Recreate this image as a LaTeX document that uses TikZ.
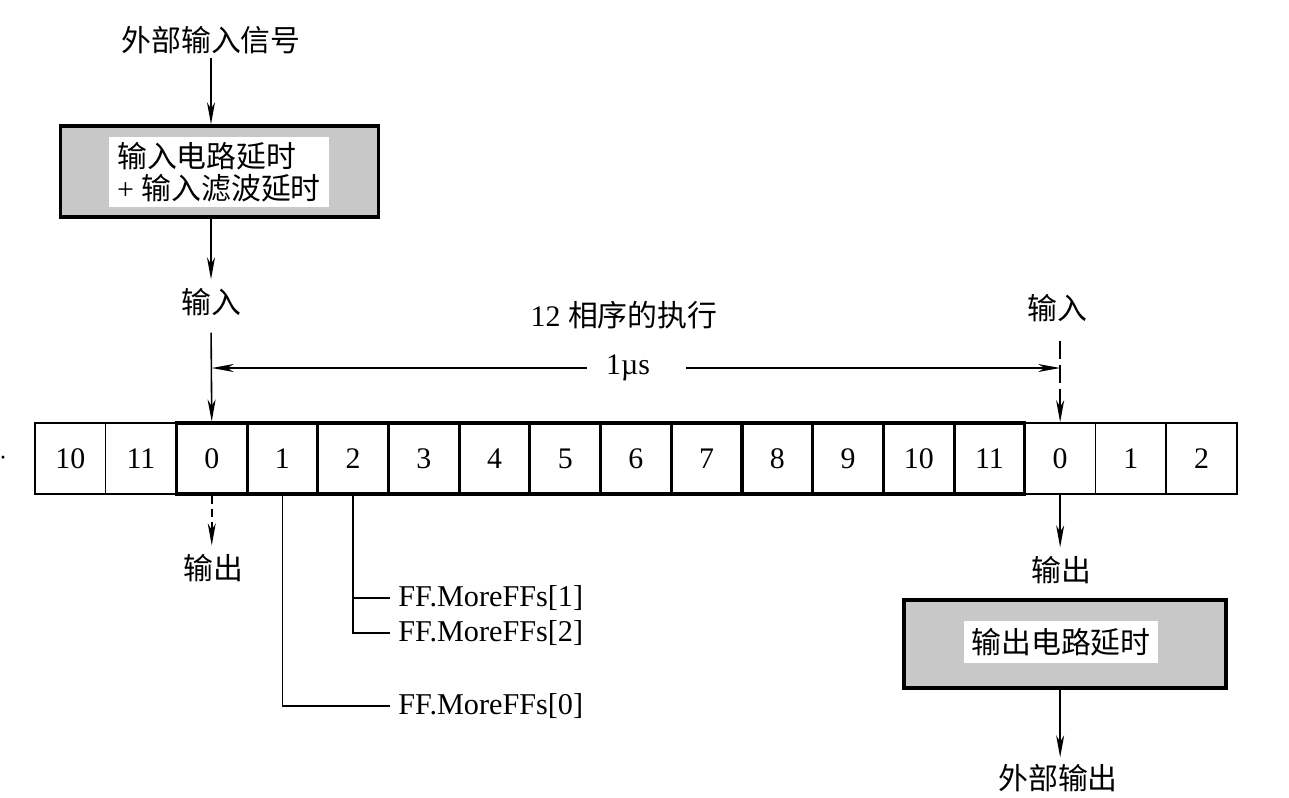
\documentclass[tikz,border=0pt]{standalone}
\usepackage{fontspec}
\setmainfont{Liberation Serif}
\newfontfamily\cjk{Noto Sans CJK SC}
\newcommand\zh[1]{{\cjk #1}}
\usetikzlibrary{arrows.meta,positioning}
\definecolor{boxgray}{RGB}{200,200,200}
\begin{document}
\begin{tikzpicture}[x=0.02cm,y=-0.02cm,
  lbl/.style={font=\fontsize{17}{20}\selectfont, inner sep=2pt},
  arr/.style={line width=0.9pt,-{Stealth[length=4.4mm,width=1.6mm,inset=1.3mm]}},
  darrL/.style={arr, dash pattern=on 0.16cm off 0.1cm},
  darrR/.style={arr, dash pattern=on 0.36cm off 0.12cm},
  thinl/.style={line width=0.9pt},
  cellthin/.style={draw, line width=0.9pt, minimum width=1.414cm, minimum height=1.42cm, inner sep=0pt, font=\fontsize{17}{20}\selectfont},
  cellthick/.style={cellthin, line width=1.8pt},
  graybox/.style={draw, line width=2pt, fill=boxgray},
  whitetext/.style={fill=white, font=\fontsize{17}{20}\selectfont},
  fflbl/.style={font=\fontsize{17.2}{20}\selectfont, anchor=west, inner sep=0pt}
]
\useasboundingbox (0,0) rectangle (1289,798);

% cells
\foreach \i/\t in {0/10,1/11,14/0,15/1,16/2}{
  \pgfmathsetmacro\cx{35+70.7*(\i+0.5)}
  \node[cellthin] (c\i) at (\cx,458.5) {\t};
}
\foreach \i/\t in {2/0,3/1,4/2,5/3,6/4,7/5,8/6,9/7,10/8,11/9,12/10,13/11}{
  \pgfmathsetmacro\cx{35+70.7*(\i+0.5)}
  \node[cellthick] (c\i) at (\cx,458.5) {\t};
}
\fill (3,457) circle (0.035cm);

% input side
\node[lbl] (ext) at (211,40) {\zh{外部输入信号}};
\node[graybox, minimum width=6.36cm, minimum height=1.82cm] (inbox) at (219.5,171.5) {};
\node[whitetext, align=left, inner xsep=0.16cm, inner ysep=0.1cm] (intext) at (219,172)
  {\zh{输入电路延时}\\[-2pt]+ \zh{输入滤波延时}};
\draw[arr] (ext.south) -- (ext.south |- inbox.north);
\node[lbl] (in1) at (211,302) {\zh{输入}};
\draw[arr] (inbox.south -| in1) -- ([yshift=0.1cm]in1.north);
\draw[arr, shorten <=0.26cm] (in1.south) -- (c2.north);

\node[lbl] (seq) at (624,315) {12 \zh{相序的执行}};
\node[lbl, inner sep=0pt] (mu) at (628,368) {1\textmu s};
\draw[arr] ([xshift=-0.38cm]mu.west) -- (c2.north |- mu.west);
\draw[arr] ([xshift=0.72cm]mu.east) -- (c14.north |- mu.east);

\node[lbl] (in2) at (1057,308) {\zh{输入}};
\draw[darrR, shorten <=0.3cm] (c14.north |- in2.south) -- (c14.north);

% output side
\node[lbl] (out1) at (213,568) {\zh{输出}};
\draw[darrL] (c2.south) -- ([yshift=0.1cm]c2.south |- out1.north);
\node[lbl] (out2) at (1061,570) {\zh{输出}};
\draw[arr] (c14.south) -- ([yshift=0.1cm]c14.south |- out2.north);
\node[graybox, minimum width=6.44cm, minimum height=1.76cm] (outbox) at (1065,644) {};
\node[whitetext, inner xsep=0.14cm, inner ysep=0.14cm] (outtext) at (1061,642) {\zh{输出电路延时}};
\node[lbl] (extout) at (1058,778) {\zh{外部输出}};
\draw[arr] (outbox.south -| c14) -- ([yshift=0.06cm]c14.south |- extout.north);

% FF labels
\node[fflbl] (ff1) at (398,598) {FF.MoreFFs[1]};
\node[fflbl] (ff2) at (398,633) {FF.MoreFFs[2]};
\node[fflbl] (ff0) at (398,706) {FF.MoreFFs[0]};
\draw[thinl] (c3.south) |- ([xshift=-0.16cm]ff0.west);
\draw[thinl] (c4.south) |- ([xshift=-0.16cm]ff2.west);
\draw[thinl] (c4.south |- ff1.west) -- ([xshift=-0.16cm]ff1.west);
\end{tikzpicture}
\end{document}
